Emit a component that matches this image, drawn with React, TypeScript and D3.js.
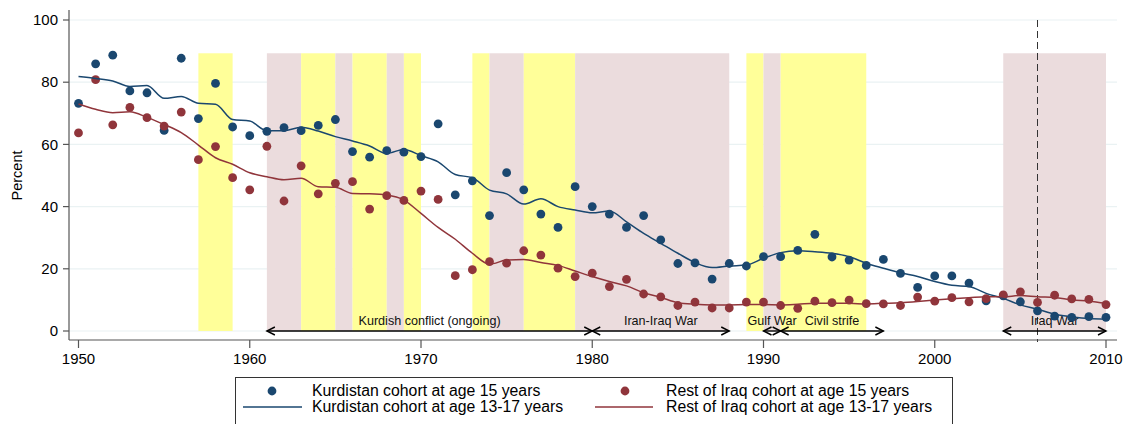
import React from "react";
import * as d3 from "d3";

const YEARS = [1950,1951,1952,1953,1954,1955,1956,1957,1958,1959,1960,1961,1962,1963,1964,1965,1966,1967,1968,1969,1970,1971,1972,1973,1974,1975,1976,1977,1978,1979,1980,1981,1982,1983,1984,1985,1986,1987,1988,1989,1990,1991,1992,1993,1994,1995,1996,1997,1998,1999,2000,2001,2002,2003,2004,2005,2006,2007,2008,2009,2010];

const KURD_15 = [73.2,85.9,88.7,77.2,76.6,64.5,87.7,68.3,79.6,65.6,62.8,64.2,65.4,64.4,66.1,68.0,57.7,55.9,58.0,57.5,56.1,66.6,43.8,48.3,37.1,50.9,45.4,37.6,33.3,46.4,40.0,37.6,33.3,37.1,29.3,21.7,21.9,16.7,21.7,20.9,23.9,23.9,25.9,31.1,23.8,22.8,21.1,23.0,18.5,14.0,17.7,17.7,15.4,9.7,11.3,9.4,6.5,4.8,4.4,4.6,4.4];

const REST_15 = [63.7,80.8,66.3,71.9,68.6,65.9,70.4,55.1,59.3,49.3,45.4,59.4,41.8,53.1,44.1,47.5,48.0,39.2,43.5,42.0,45.0,42.3,17.8,19.7,22.3,21.8,25.8,24.4,20.2,17.5,18.6,14.3,16.6,11.9,11.0,8.2,9.3,7.4,7.4,9.3,9.3,8.2,7.3,9.6,9.1,9.9,8.8,8.7,8.2,10.9,9.6,10.7,9.4,10.4,11.6,12.6,9.2,11.5,10.3,10.2,8.5];

const KURD_1317 = [81.8,81.2,80.4,78.6,78.9,74.8,75.4,73.2,72.9,68.0,67.5,64.4,64.4,65.5,64.3,62.5,61.1,59.5,57.1,58.4,56.4,54.4,50.3,49.3,45.3,44.1,40.8,42.5,40.0,38.9,38.0,38.6,35.1,31.4,28.2,25.0,22.0,20.4,20.9,21.2,23.4,25.2,25.8,25.5,25.0,23.9,21.8,20.2,18.7,17.5,15.9,14.7,14.3,12.1,10.5,8.4,7.0,5.4,4.6,4.0,3.8];

const REST_1317 = [73.0,71.3,70.2,70.5,68.7,66.4,63.8,59.8,55.7,53.6,50.9,49.6,48.6,49.1,46.4,46.2,44.2,44.1,43.7,42.1,37.8,33.3,29.5,25.0,21.5,22.8,23.0,22.0,21.1,19.3,17.5,15.9,14.5,12.3,10.8,9.1,8.6,8.4,8.4,8.5,8.5,8.4,8.6,8.9,8.9,8.9,8.7,8.9,9.1,9.5,10.0,10.4,10.7,11.0,11.0,11.4,11.0,10.8,10.0,9.6,8.9];

// shaded periods: [start, end, kind]
const BAND_START = [1957,1961,1963,1965,1966,1968,1969,1973,1974,1976,1979,1989,1990,1991,2004];
const BAND_END =   [1959,1963,1965,1966,1968,1969,1970,1974,1976,1979,1988,1990,1991,1996,2010];
const BAND_KIND =  ["y","p","y","p","y","p","y","y","p","y","p","y","p","y","p"];
const BAND_TOP = 89.3;

const EVENT_START = [1961,1980,1990,1991,2004];
const EVENT_END =   [1980,1988,1991,1997,2010];
const EVENT_LABEL = ["Kurdish conflict (ongoing)","Iran-Iraq War","Gulf War","Civil strife","Iraq War"];

const X_TICKS = [1950,1960,1970,1980,1990,2000,2010];
const Y_TICKS = [0,20,40,60,80,100];
const MARK_YEAR = 2006;

const BLUE = "#1a476f";
const RED = "#90353b";
const YELLOW = "#ffff99";
const PINK = "#ebdcdd";
const FONT = "'Liberation Sans', Arial, Helvetica, sans-serif";

export default function App() {
  const x = d3.scaleLinear().domain([1950, 2010]).range([78.5, 1106]);
  const y = d3.scaleLinear().domain([0, 100]).range([331, 20]);
  const left = 69, right = 1117, top = 10, bottom = 340;

  const line = (vals: number[]) =>
    d3.line<number>().x((_, i) => x(YEARS[i])).y((v) => y(v)).curve(d3.curveMonotoneX)(vals) || "";

  const arrowY = y(0);
  const head = (tx: number, dir: number) =>
    `M${tx - dir * 8},${arrowY - 4}L${tx},${arrowY}L${tx - dir * 8},${arrowY + 4}`;

  return (
    <svg width={1127} height={424} style={{ position: "absolute", left: 0, top: 0, background: "#fff" }} fontFamily={FONT}>
      <rect x={0} y={0} width={1127} height={424} fill="#fff" />
      {/* gridlines */}
      {Y_TICKS.map((t) => (
        <line key={"g" + t} x1={left} x2={right} y1={y(t)} y2={y(t)} stroke="#eaf2f3" strokeWidth={1.2} />
      ))}
      {/* bands */}
      {BAND_START.map((s, i) => (
        <rect key={"b" + i} x={x(s)} width={x(BAND_END[i]) - x(s)} y={y(BAND_TOP)} height={y(0) - y(BAND_TOP)}
          fill={BAND_KIND[i] === "y" ? YELLOW : PINK} />
      ))}
      {/* dashed marker */}
      <line x1={x(MARK_YEAR)} x2={x(MARK_YEAR)} y1={y(100)} y2={bottom + 2} stroke="#333" strokeWidth={1} strokeDasharray="7,4" />
      {/* event arrows */}
      {EVENT_START.map((s, i) => {
        const x1 = x(s), x2 = x(EVENT_END[i]);
        return (
          <g key={"e" + i}>
            <line x1={x1} x2={x2} y1={arrowY} y2={arrowY} stroke="#000" strokeWidth={1.4} />
            <path d={head(x1, -1)} fill="none" stroke="#000" strokeWidth={1.4} />
            <path d={head(x2, 1)} fill="none" stroke="#000" strokeWidth={1.4} />
            <text x={(x1 + x2) / 2} y={y(0) - 6} textAnchor="middle" fontSize={12.6} fill="#111">{EVENT_LABEL[i]}</text>
          </g>
        );
      })}
      {/* scatter */}
      {KURD_15.map((v, i) => (
        <circle key={"k" + i} cx={x(YEARS[i])} cy={y(v)} r={4.4} fill={BLUE} />
      ))}
      {REST_15.map((v, i) => (
        <circle key={"r" + i} cx={x(YEARS[i])} cy={y(v)} r={4.4} fill={RED} />
      ))}
      {/* lines */}
      <path d={line(KURD_1317)} fill="none" stroke={BLUE} strokeWidth={1.5} />
      <path d={line(REST_1317)} fill="none" stroke={RED} strokeWidth={1.5} />
      {/* axes */}
      <line x1={left} x2={left} y1={top} y2={bottom} stroke="#555" strokeWidth={1.2} />
      <line x1={left} x2={right} y1={bottom} y2={bottom} stroke="#555" strokeWidth={1.2} />
      {Y_TICKS.map((t) => (
        <g key={"yt" + t}>
          <line x1={left - 6} x2={left} y1={y(t)} y2={y(t)} stroke="#555" strokeWidth={1.2} />
          <text x={58} y={y(t)} dy="0.35em" textAnchor="end" fontSize={15} fill="#000">{t}</text>
        </g>
      ))}
      {X_TICKS.map((t) => (
        <g key={"xt" + t}>
          <line x1={x(t)} x2={x(t)} y1={bottom} y2={bottom + 8} stroke="#555" strokeWidth={1.2} />
          <text x={x(t)} y={359} dy="0.35em" textAnchor="middle" fontSize={15} fill="#000">{t}</text>
        </g>
      ))}
      <text transform={`translate(17,${y(50)}) rotate(-90)`} textAnchor="middle" dy="0.35em" fontSize={14.5} fill="#000">Percent</text>
      {/* legend */}
      <rect x={235.5} y={377.5} width={717} height={70} fill="#fff" stroke="#333" strokeWidth={1} />
      <circle cx={272} cy={391} r={4.4} fill={BLUE} />
      <text x={312} y={396} fontSize={15.8} fill="#000">Kurdistan cohort at age 15 years</text>
      <line x1={243} x2={302} y1={407} y2={407} stroke={BLUE} strokeWidth={1.5} />
      <text x={312} y={412} fontSize={15.8} fill="#000">Kurdistan cohort at age 13-17 years</text>
      <circle cx={625} cy={391} r={4.4} fill={RED} />
      <text x={666} y={396} fontSize={15.8} fill="#000">Rest of Iraq cohort at age 15 years</text>
      <line x1={595} x2={653} y1={407} y2={407} stroke={RED} strokeWidth={1.5} />
      <text x={666} y={412} fontSize={15.8} fill="#000">Rest of Iraq cohort at age 13-17 years</text>
    </svg>
  );
}
